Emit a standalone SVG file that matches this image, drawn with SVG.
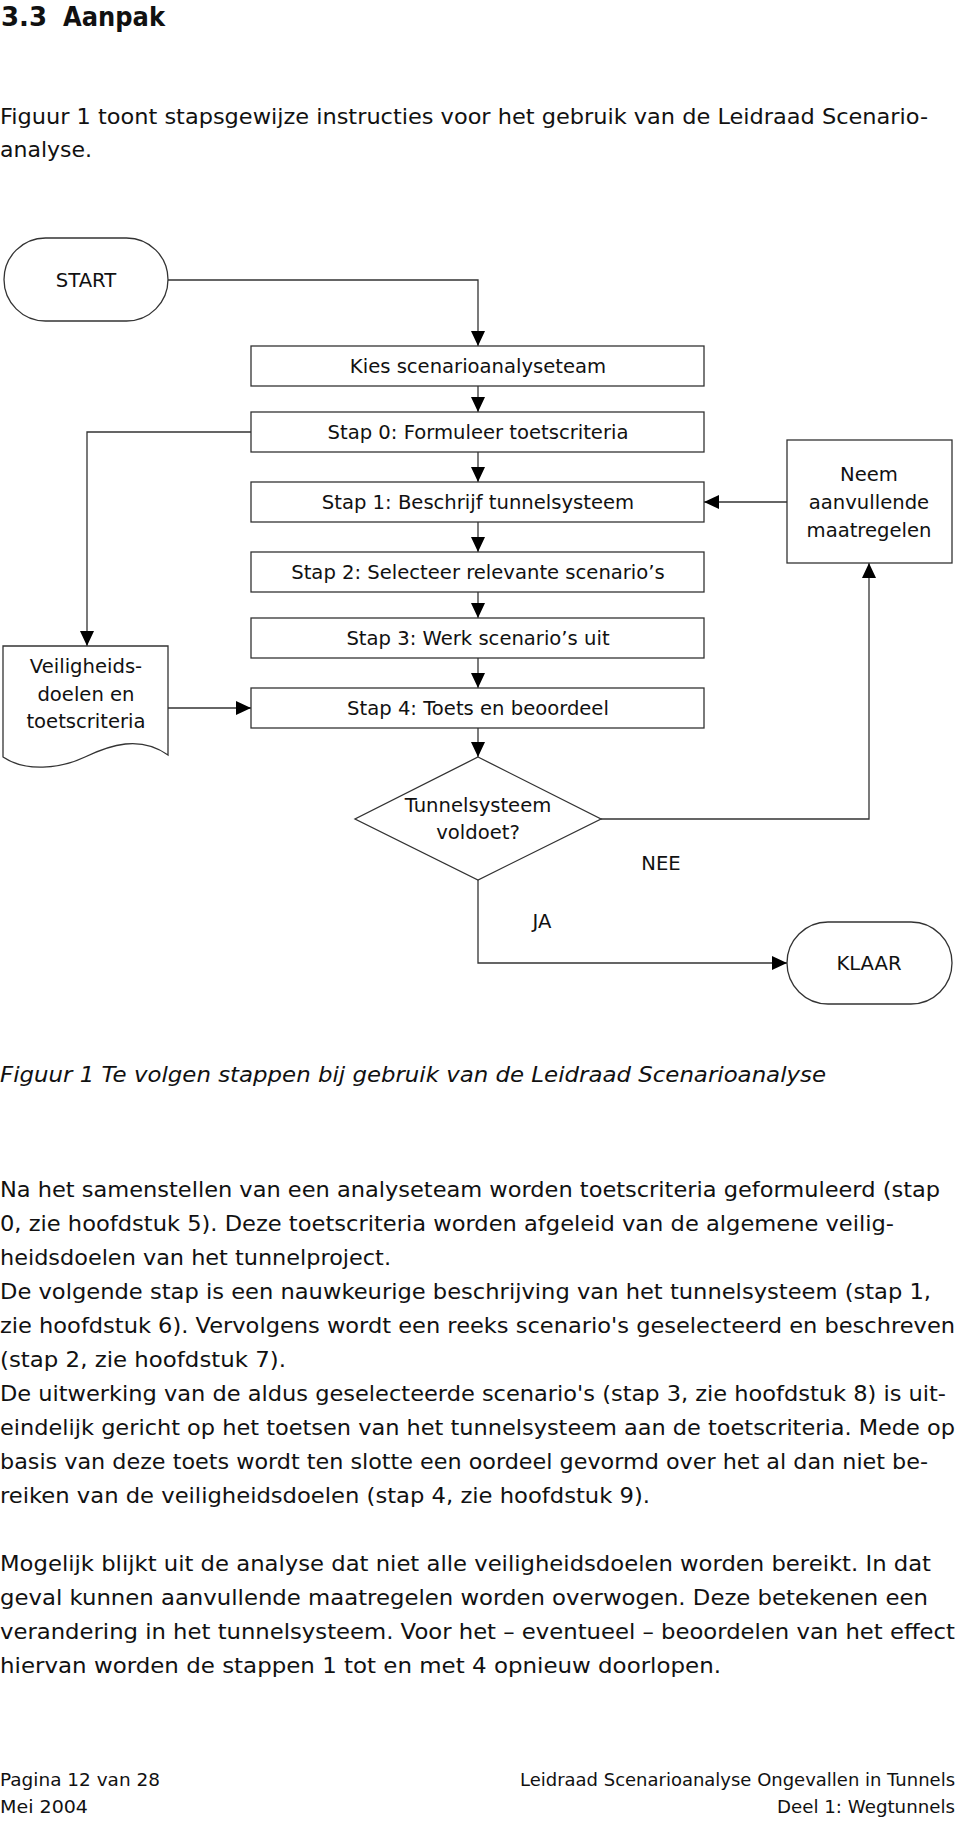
<svg xmlns="http://www.w3.org/2000/svg" width="960" height="1821" viewBox="0 0 960 1821">
<style>
text{font-family:"DejaVu Sans","Liberation Sans",sans-serif;fill:#111}
.h{font-size:26px;font-weight:bold}
.b{font-size:22px}
.cap{font-size:22px;font-style:italic}
.f{font-size:18px}
.n{font-size:19.6px;text-anchor:middle}
.shape{fill:#fff;stroke:#333;stroke-width:1.3}
.con{fill:none;stroke:#333;stroke-width:1.3}
</style>
<defs>
<marker id="arr" viewBox="0 0 15 14" refX="15" refY="7" markerWidth="15" markerHeight="14" markerUnits="userSpaceOnUse" orient="auto">
<path d="M0,0 L15,7 L0,14 z" fill="#000"/>
</marker>
</defs>
<rect width="960" height="1821" fill="#fff"/>

<g id="heading">
<text class="h" x="1" y="26">3.3</text>
<text class="h" x="63" y="26" textLength="102" lengthAdjust="spacingAndGlyphs">Aanpak</text>
</g>
<g id="intro">
<text class="b" x="0" y="124" textLength="928" lengthAdjust="spacingAndGlyphs">Figuur 1 toont stapsgewijze instructies voor het gebruik van de Leidraad Scenario-</text>
<text class="b" x="0" y="157">analyse.</text>
</g>

<g id="connectors">
<path class="con" d="M168,280 H478 V346" marker-end="url(#arr)"/>
<path class="con" d="M478,386 V412" marker-end="url(#arr)"/>
<path class="con" d="M478,452 V482" marker-end="url(#arr)"/>
<path class="con" d="M478,522 V552" marker-end="url(#arr)"/>
<path class="con" d="M478,592 V618" marker-end="url(#arr)"/>
<path class="con" d="M478,658 V688" marker-end="url(#arr)"/>
<path class="con" d="M478,728 V757" marker-end="url(#arr)"/>
<path class="con" d="M251,432 H87 V646" marker-end="url(#arr)"/>
<path class="con" d="M168,708 H251" marker-end="url(#arr)"/>
<path class="con" d="M787,502 H704" marker-end="url(#arr)"/>
<path class="con" d="M601,819 H869 V563" marker-end="url(#arr)"/>
<path class="con" d="M478,880 V963 H787" marker-end="url(#arr)"/>
<text class="n" x="661" y="870">NEE</text>
<text class="n" x="542" y="928">JA</text>
</g>

<g id="start">
<rect class="shape" x="4" y="238" width="164" height="83" rx="41.5" ry="41.5"/>
<text class="n" x="86" y="287">START</text>
</g>
<g id="kies">
<rect class="shape" x="251" y="346" width="453" height="40"/>
<text class="n" x="478" y="373">Kies scenarioanalyseteam</text>
</g>
<g id="stap0">
<rect class="shape" x="251" y="412" width="453" height="40"/>
<text class="n" x="478" y="439">Stap 0: Formuleer toetscriteria</text>
</g>
<g id="stap1">
<rect class="shape" x="251" y="482" width="453" height="40"/>
<text class="n" x="478" y="509">Stap 1: Beschrijf tunnelsysteem</text>
</g>
<g id="stap2">
<rect class="shape" x="251" y="552" width="453" height="40"/>
<text class="n" x="478" y="579">Stap 2: Selecteer relevante scenario’s</text>
</g>
<g id="stap3">
<rect class="shape" x="251" y="618" width="453" height="40"/>
<text class="n" x="478" y="645">Stap 3: Werk scenario’s uit</text>
</g>
<g id="stap4">
<rect class="shape" x="251" y="688" width="453" height="40"/>
<text class="n" x="478" y="715">Stap 4: Toets en beoordeel</text>
</g>
<g id="doc">
<path class="shape" d="M3,646 H168 V755 C140,735 110,745 85,757 C60,769 25,772 3,757 Z"/>
<text class="n" x="86" y="673">Veiligheids-</text>
<text class="n" x="86" y="701">doelen en</text>
<text class="n" x="86" y="728">toetscriteria</text>
</g>
<g id="decision">
<path class="shape" d="M478,757 L601,819 L478,880 L355,819 Z"/>
<text class="n" x="478" y="812">Tunnelsysteem</text>
<text class="n" x="478" y="839">voldoet?</text>
</g>
<g id="neem">
<rect class="shape" x="787" y="440" width="165" height="123"/>
<text class="n" x="869" y="481">Neem</text>
<text class="n" x="869" y="509">aanvullende</text>
<text class="n" x="869" y="537">maatregelen</text>
</g>
<g id="klaar">
<rect class="shape" x="787" y="922" width="165" height="82" rx="41" ry="41"/>
<text class="n" x="869" y="970">KLAAR</text>
</g>

<g id="caption">
<text class="cap" x="0" y="1082" textLength="826" lengthAdjust="spacingAndGlyphs">Figuur 1 Te volgen stappen bij gebruik van de Leidraad Scenarioanalyse</text>
</g>

<g id="body">
<text class="b" x="0" y="1197" textLength="940" lengthAdjust="spacingAndGlyphs">Na het samenstellen van een analyseteam worden toetscriteria geformuleerd (stap</text>
<text class="b" x="0" y="1231" textLength="894" lengthAdjust="spacingAndGlyphs">0, zie hoofdstuk 5). Deze toetscriteria worden afgeleid van de algemene veilig-</text>
<text class="b" x="0" y="1265" textLength="391" lengthAdjust="spacingAndGlyphs">heidsdoelen van het tunnelproject.</text>
<text class="b" x="0" y="1299" textLength="931" lengthAdjust="spacingAndGlyphs">De volgende stap is een nauwkeurige beschrijving van het tunnelsysteem (stap 1,</text>
<text class="b" x="0" y="1333" textLength="955" lengthAdjust="spacingAndGlyphs">zie hoofdstuk 6). Vervolgens wordt een reeks scenario's geselecteerd en beschreven</text>
<text class="b" x="0" y="1367" textLength="286" lengthAdjust="spacingAndGlyphs">(stap 2, zie hoofdstuk 7).</text>
<text class="b" x="0" y="1401" textLength="946" lengthAdjust="spacingAndGlyphs">De uitwerking van de aldus geselecteerde scenario's (stap 3, zie hoofdstuk 8) is uit-</text>
<text class="b" x="0" y="1435" textLength="955" lengthAdjust="spacingAndGlyphs">eindelijk gericht op het toetsen van het tunnelsysteem aan de toetscriteria. Mede op</text>
<text class="b" x="0" y="1469" textLength="928" lengthAdjust="spacingAndGlyphs">basis van deze toets wordt ten slotte een oordeel gevormd over het al dan niet be-</text>
<text class="b" x="0" y="1503" textLength="650" lengthAdjust="spacingAndGlyphs">reiken van de veiligheidsdoelen (stap 4, zie hoofdstuk 9).</text>
<text class="b" x="0" y="1571" textLength="931" lengthAdjust="spacingAndGlyphs">Mogelijk blijkt uit de analyse dat niet alle veiligheidsdoelen worden bereikt. In dat</text>
<text class="b" x="0" y="1605" textLength="928" lengthAdjust="spacingAndGlyphs">geval kunnen aanvullende maatregelen worden overwogen. Deze betekenen een</text>
<text class="b" x="0" y="1639" textLength="955" lengthAdjust="spacingAndGlyphs">verandering in het tunnelsysteem. Voor het – eventueel – beoordelen van het effect</text>
<text class="b" x="0" y="1673" textLength="721" lengthAdjust="spacingAndGlyphs">hiervan worden de stappen 1 tot en met 4 opnieuw doorlopen.</text>
</g>

<g id="footer">
<text class="f" x="0" y="1786" textLength="160" lengthAdjust="spacingAndGlyphs">Pagina 12 van 28</text>
<text class="f" x="0" y="1813" textLength="88" lengthAdjust="spacingAndGlyphs">Mei 2004</text>
<text class="f" x="520" y="1786" textLength="435" lengthAdjust="spacingAndGlyphs">Leidraad Scenarioanalyse Ongevallen in Tunnels</text>
<text class="f" x="777" y="1813" textLength="178" lengthAdjust="spacingAndGlyphs">Deel 1: Wegtunnels</text>
</g>
</svg>
